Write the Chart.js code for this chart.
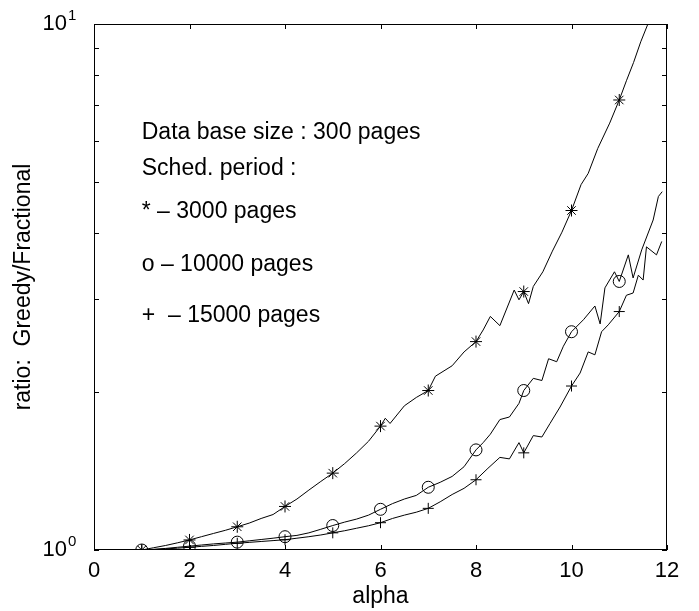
<!DOCTYPE html>
<html lang="en">
<head>
    <meta charset="UTF-8">
    <title>ratio: Greedy/Fractional vs alpha</title>
    <style>
        * {
            margin: 0;
            padding: 0;
            box-sizing: border-box;
        }

        body {
            background-color: #fff;
            width: 699px;
            height: 611px;
            overflow: hidden;
        }
    </style>
    <script src="https://cdn.jsdelivr.net/npm/chart.js@4"></script>
</head>
<body>
    <canvas id="ratioChart" width="699" height="611"></canvas>

    <script>
        // values (x = alpha, y = ratio)
        const starX = [1, 1.25, 1.5, 1.75, 2, 2.25, 2.5, 2.75, 3, 3.25, 3.5, 3.75, 4, 4.25, 4.5, 4.75, 5, 5.25, 5.5, 5.75,
            6, 6.1, 6.2, 6.5, 6.75, 7, 7.15, 7.5, 7.75, 8, 8.15, 8.3, 8.5, 8.8, 8.9, 9, 9.1, 9.2, 9.4, 9.6, 9.8,
            10, 10.2, 10.35, 10.55, 10.8, 11, 11.15, 11.3, 11.45, 11.6, 11.75];
        const starY = [1.0, 1.01, 1.02, 1.032, 1.045, 1.06, 1.075, 1.09, 1.107, 1.125, 1.148, 1.168, 1.21, 1.25, 1.3, 1.35, 1.4, 1.46, 1.53, 1.61,
            1.72, 1.78, 1.74, 1.88, 1.95, 2.01, 2.14, 2.24, 2.38, 2.49, 2.62, 2.78, 2.67, 3.12, 2.99, 3.1, 2.94, 3.17, 3.38, 3.7, 4.02,
            4.42, 4.95, 5.2, 5.8, 6.48, 7.17, 7.8, 8.45, 9.25, 10.0, 10.8];

        const circX = [1, 1.25, 1.5, 1.75, 2, 2.25, 2.5, 2.75, 3, 3.25, 3.5, 3.75, 4, 4.25, 4.5, 4.75, 5, 5.25, 5.5, 5.75,
            6, 6.25, 6.5, 6.75, 7, 7.25, 7.5, 7.75, 8, 8.15, 8.3, 8.5, 8.7, 8.9, 9, 9.2, 9.38, 9.52, 9.69, 9.83,
            10, 10.25, 10.49, 10.6, 10.7, 10.9, 11, 11.19, 11.29, 11.47, 11.71, 11.82, 11.9];
        const circY = [1.0, 1.003, 1.007, 1.012, 1.017, 1.022, 1.027, 1.031, 1.035, 1.041, 1.047, 1.053, 1.06, 1.066, 1.078, 1.095, 1.113, 1.13, 1.145, 1.165,
            1.195, 1.225, 1.25, 1.27, 1.316, 1.345, 1.38, 1.44, 1.55, 1.6, 1.66, 1.77, 1.79, 1.9, 2.01, 2.12, 2.1, 2.31, 2.28, 2.44,
            2.6, 2.74, 2.91, 2.69, 3.15, 3.38, 3.24, 3.64, 3.29, 3.72, 4.24, 4.7, 4.8];

        const plusX = [1, 1.25, 1.5, 1.75, 2, 2.25, 2.5, 2.75, 3, 3.25, 3.5, 3.75, 4, 4.25, 4.5, 4.75, 5, 5.25, 5.5, 5.75,
            6, 6.25, 6.5, 6.75, 7, 7.25, 7.5, 7.75, 8, 8.25, 8.5, 8.7, 8.9, 9, 9.2, 9.38, 9.55, 9.76,
            10, 10.18, 10.35, 10.49, 10.63, 10.77, 11, 11.15, 11.29, 11.4, 11.5, 11.57, 11.78, 11.89];
        const plusY = [1.0, 1.002, 1.005, 1.008, 1.012, 1.016, 1.02, 1.025, 1.03, 1.034, 1.038, 1.042, 1.046, 1.053, 1.06, 1.068, 1.078, 1.088, 1.1, 1.112,
            1.127, 1.148, 1.165, 1.18, 1.2, 1.235, 1.275, 1.31, 1.36, 1.43, 1.5, 1.49, 1.6, 1.53, 1.65, 1.64, 1.74, 1.87,
            2.05, 2.17, 2.38, 2.35, 2.6, 2.68, 2.84, 3.05, 3.08, 3.33, 3.26, 3.77, 3.64, 3.86];

        const xTicks = [0, 2, 4, 6, 8, 10, 12];
        const yTicks = [1, 2, 3, 4, 5, 6, 7, 8, 9, 10];
        const yTickExp = { 1: '0', 10: '1' };

        const noteTexts = [
            'Data base size : 300 pages',
            'Sched. period :',
            '* \u2013 3000 pages',
            'o \u2013 10000 pages',
            '+  \u2013 15000 pages'
        ];

        const FONT = '"Liberation Sans", Arial, Helvetica, sans-serif';
        Chart.defaults.font.family = FONT;
        Chart.defaults.color = '#000';

        function makeSeries(label, xs, ys, style, radius) {
            return {
                label: label,
                data: xs.map((x, i) => ({ x: x, y: ys[i] })),
                borderColor: '#000',
                borderWidth: 1,
                backgroundColor: 'transparent',
                pointStyle: style,
                pointBorderColor: '#000',
                pointBackgroundColor: 'transparent',
                pointBorderWidth: 1,
                // markers only on integer alpha values
                pointRadius: ctx => (ctx.raw && Number.isInteger(ctx.raw.x)) ? radius : 0,
                tension: 0
            };
        }

        // box, inward ticks, superscripts and the text notes
        const decorPlugin = {
            id: 'decor',
            afterDraw(chart) {
                const { ctx, chartArea: a } = chart;
                const xs = chart.scales.x;
                const ys = chart.scales.y;
                const tl = 5;
                ctx.save();
                ctx.strokeStyle = '#000';
                ctx.lineWidth = 1;
                ctx.strokeRect(a.left + 0.5, a.top + 0.5, a.right - a.left - 1, a.bottom - a.top - 1);

                ctx.beginPath();
                xs.ticks.forEach(t => {
                    const px = Math.round(xs.getPixelForValue(t.value)) + 0.5;
                    ctx.moveTo(px, a.bottom);
                    ctx.lineTo(px, a.bottom - tl);
                    ctx.moveTo(px, a.top);
                    ctx.lineTo(px, a.top + tl);
                });
                ys.ticks.forEach(t => {
                    const py = Math.round(ys.getPixelForValue(t.value)) + 0.5;
                    ctx.moveTo(a.left, py);
                    ctx.lineTo(a.left + tl, py);
                    ctx.moveTo(a.right, py);
                    ctx.lineTo(a.right - tl, py);
                });
                ctx.stroke();

                // exponents of the 10^n labels
                ctx.fillStyle = '#000';
                ctx.font = '15px ' + FONT;
                ctx.textAlign = 'left';
                ctx.textBaseline = 'middle';
                Object.keys(yTickExp).forEach(v => {
                    const py = ys.getPixelForValue(Number(v));
                    ctx.fillText(yTickExp[v], a.left - 26, py - 8.5);
                });

                // notes inside the plot
                const noteY = [6.215, 5.32, 4.39, 3.487, 2.786];
                ctx.font = '23px ' + FONT;
                noteTexts.forEach((txt, i) => {
                    ctx.fillText(txt, xs.getPixelForValue(1), ys.getPixelForValue(noteY[i]));
                });
                ctx.restore();
            }
        };

        new Chart(document.getElementById('ratioChart').getContext('2d'), {
            type: 'line',
            data: {
                datasets: [
                    makeSeries('3000 pages', starX, starY, 'star', 6),
                    makeSeries('10000 pages', circX, circY, 'circle', 6),
                    makeSeries('15000 pages', plusX, plusY, 'cross', 5.5)
                ]
            },
            options: {
                responsive: false,
                animation: false,
                devicePixelRatio: 1,
                layout: {
                    padding: { left: 0, right: 32, top: 24, bottom: 0 }
                },
                plugins: {
                    legend: { display: false },
                    tooltip: { enabled: false }
                },
                scales: {
                    x: {
                        type: 'linear',
                        min: 0,
                        max: 12,
                        afterBuildTicks: s => { s.ticks = xTicks.map(v => ({ value: v })); },
                        ticks: { font: { size: 22 }, padding: 8, autoSkip: false, maxRotation: 0 },
                        grid: { display: false, drawTicks: false },
                        border: { display: false },
                        title: { display: true, text: 'alpha', font: { size: 23 }, padding: { top: 0, bottom: 1 } },
                        afterFit: s => { s.height = 61; s.paddingLeft = 0; s.paddingRight = 0; }
                    },
                    y: {
                        type: 'logarithmic',
                        min: 1,
                        max: 10,
                        afterBuildTicks: s => { s.ticks = yTicks.map(v => ({ value: v })); },
                        ticks: {
                            font: { size: 22 },
                            padding: 27,
                            autoSkip: false,
                            callback: v => (v === 1 || v === 10) ? '10' : ''
                        },
                        grid: { display: false, drawTicks: false },
                        border: { display: false },
                        title: { display: true, text: 'ratio:  Greedy/Fractional', font: { size: 23 }, padding: { top: 10, bottom: 0 } },
                        afterFit: s => { s.width = 94; s.paddingTop = 0; s.paddingBottom = 0; }
                    }
                }
            },
            plugins: [decorPlugin]
        });
    </script>
</body>
</html>
